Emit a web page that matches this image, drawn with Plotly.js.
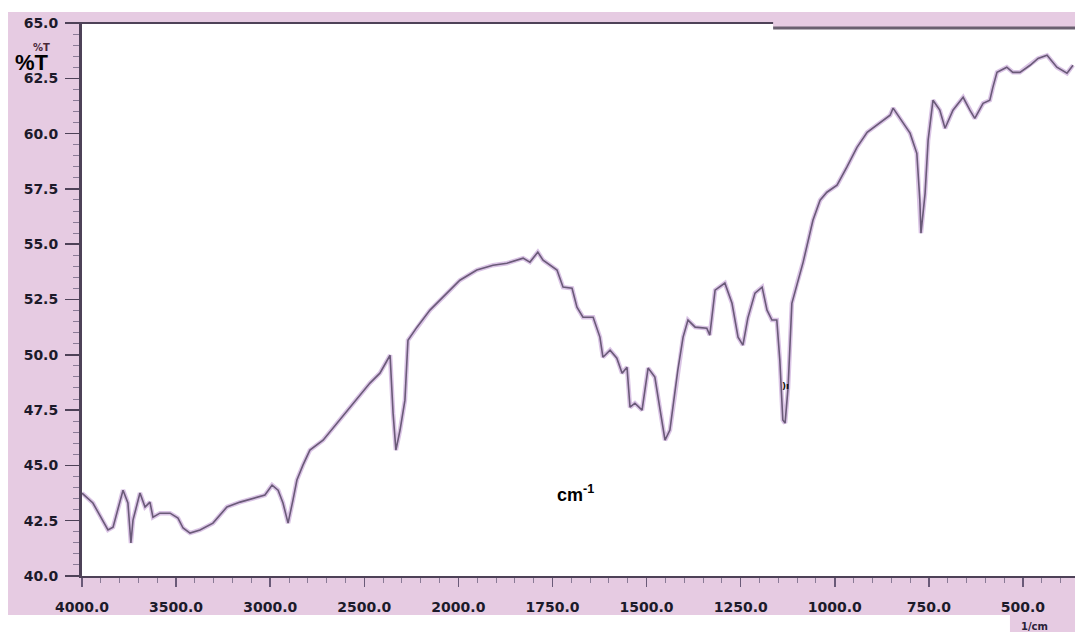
<!DOCTYPE html>
<html>
<head>
<meta charset="utf-8">
<script src="https://cdn.plot.ly/plotly-3.0.1.min.js"></script>
<style>html,body{margin:0;padding:0;background:#fff;}#chart{width:1075px;height:632px;}</style>
</head>
<body>
<div id="chart"></div>
<script>
// FTIR spectrum values
const wavenumber = [4000,3942,3862,3835,3782,3756,3740,3729,3692,3665,3639,3623,3586,3532,3490,3463,3426,3373,3304,3230,3160,3091,3028,2990,2958,2932,2905,2879,2858,2826,2789,2719,2645,2560,2470,2417,2363,2347,2332,2310,2284,2268,2220,2151,2082,1996,1951,1908,1871,1828,1810,1789,1775,1738,1722,1698,1685,1669,1642,1624,1616,1597,1579,1565,1552,1544,1531,1512,1496,1478,1464,1451,1438,1417,1403,1390,1371,1340,1332,1318,1292,1273,1257,1244,1231,1212,1193,1180,1167,1154,1146,1138,1132,1124,1114,1098,1084,1058,1039,1021,994,968,941,914,880,853,845,827,800,782,774,771,760,752,739,721,707,686,659,641,628,606,588,580,569,543,527,508,481,460,436,410,383,367];
const transmittance = [43.75,43.30,42.08,42.21,43.88,43.30,41.49,42.53,43.75,43.12,43.34,42.66,42.84,42.84,42.62,42.17,41.94,42.08,42.39,43.12,43.34,43.52,43.66,44.11,43.88,43.30,42.39,43.43,44.34,45.01,45.69,46.14,46.91,47.82,48.72,49.17,49.98,47.36,45.69,46.60,47.95,50.66,51.25,52.02,52.60,53.37,53.83,54.05,54.14,54.37,54.19,54.64,54.28,53.83,53.06,53.01,52.15,51.70,51.70,50.80,49.89,50.21,49.85,49.17,49.44,47.63,47.81,47.50,49.40,48.99,47.50,46.14,46.60,49.31,50.80,51.57,51.25,51.20,50.89,52.92,53.24,52.33,50.80,50.44,51.66,52.79,53.06,52.02,51.57,51.57,49.76,47.05,46.91,48.54,52.33,53.37,54.19,56.08,56.99,57.35,57.67,58.48,59.38,60.06,60.51,60.83,61.15,60.69,60.02,59.11,56.99,55.50,57.30,59.70,61.51,61.06,60.24,61.06,61.64,61.06,60.69,61.37,61.51,62.09,62.77,63.00,62.77,62.77,63.09,63.40,63.54,63.00,62.73,63.09];
const tickWavenumbers = [4000,3500,3000,2500,2000,1750,1500,1250,1000,750,500];
const tickLabels = ['4000.0','3500.0','3000.0','2500.0','2000.0','1750.0','1500.0','1250.0','1000.0','750.0','500.0'];
const yTickValues = [40,42.5,45,47.5,50,52.5,55,57.5,60,62.5,65];
const yTickLabels = ['40.0','42.5','45.0','47.5','50.0','52.5','55.0','57.5','60.0','62.5','65.0'];

// The instrument's wavenumber axis is compressed by half above 2000 1/cm
function toScale(wn){ return wn >= 2000 ? (4000 - wn) / 500 : 4 + (2000 - wn) / 250; }
const xs = wavenumber.map(toScale);

const traces = [
  {x: xs, y: transmittance, type: 'scatter', mode: 'lines',
   line: {color: '#cdb0dc', width: 4.5}, opacity: 0.75, hoverinfo: 'skip', showlegend: false},
  {x: xs, y: transmittance, type: 'scatter', mode: 'lines',
   line: {color: '#6a5a78', width: 1.6}, hoverinfo: 'skip', showlegend: false}
];

const pink = '#e6cbe2';
const layout = {
  width: 1075, height: 632,
  margin: {l: 82, r: 0, t: 23, b: 56},
  paper_bgcolor: '#ffffff', plot_bgcolor: 'rgba(0,0,0,0)',
  showlegend: false,
  xaxis: {
    range: [0, 10.553], tickmode: 'array', tickvals: tickWavenumbers.map(toScale), ticktext: tickLabels,
    showgrid: false, zeroline: false, showline: true, linecolor: '#4e4258', linewidth: 2,
    ticks: 'outside', ticklen: 9, tickwidth: 1.5, tickcolor: '#6a5a78', ticklabelstandoff: 8,
    tickfont: {family: 'DejaVu Sans', size: 14, weight: 'bold', color: '#1c1a2a'},
    minor: {tickmode: 'linear', tick0: 0, dtick: 0.2, ticks: 'outside', ticklen: 5, tickcolor: '#8a7a96', tickwidth: 1},
    fixedrange: true
  },
  yaxis: {
    range: [40, 65], tickmode: 'array', tickvals: yTickValues, ticktext: yTickLabels,
    showgrid: false, zeroline: false, showline: true, linecolor: '#4e4258', linewidth: 3,
    ticks: 'outside', ticklen: 14, tickwidth: 1.5, tickcolor: '#4e4258', ticklabelstandoff: 4,
    tickfont: {family: 'DejaVu Sans', size: 14, weight: 'bold', color: '#1c1a2a'},
    minor: {tickmode: 'linear', tick0: 40, dtick: 0.5, ticks: 'outside', ticklen: 6, tickcolor: '#8a7a96', tickwidth: 1},
    fixedrange: true
  },
  shapes: [
    {type: 'rect', xref: 'paper', yref: 'paper', x0: -0.0745, x1: 0, y0: -0.0705, y1: 1.0199, fillcolor: pink, line: {width: 0}, layer: 'below'},
    {type: 'rect', xref: 'paper', yref: 'paper', x0: 0, x1: 1, y0: -0.0705, y1: 0, fillcolor: pink, line: {width: 0}, layer: 'below'},
    {type: 'rect', xref: 'paper', yref: 'paper', x0: 0, x1: 1, y0: 1, y1: 1.0199, fillcolor: pink, line: {width: 0}, layer: 'below'},
    {type: 'rect', xref: 'paper', yref: 'paper', x0: 0.696, x1: 1, y0: 0.991, y1: 1, fillcolor: pink, line: {width: 0}, layer: 'below'},
    {type: 'rect', xref: 'paper', yref: 'paper', x0: 0.9345, x1: 1, y0: -0.1013, y1: -0.0705, fillcolor: pink, line: {width: 0}, layer: 'below'},
    {type: 'line', xref: 'paper', yref: 'paper', x0: -0.017, x1: 0.696, y0: 1, y1: 1, line: {color: '#4e4258', width: 2}},
    {type: 'line', xref: 'paper', yref: 'paper', x0: 0.696, x1: 1, y0: 0.991, y1: 0.991, line: {color: '#6a6070', width: 3}}
  ],
  annotations: [
    {text: '%T', xref: 'paper', yref: 'paper', x: -0.0403, y: 0.9566, xanchor: 'center', yanchor: 'middle', showarrow: false,
     font: {family: 'DejaVu Sans', size: 10, weight: 'bold', color: '#4a2838'}},
    {text: '%T', xref: 'paper', yref: 'paper', x: -0.0503, y: 0.9286, xanchor: 'center', yanchor: 'middle', showarrow: false,
     font: {family: 'Liberation Sans', size: 22, weight: 'bold', color: '#000000'}},
    {text: 'cm<sup>-1</sup>', xref: 'paper', yref: 'paper', x: 0.4965, y: 0.150, xanchor: 'center', yanchor: 'middle', showarrow: false,
     font: {family: 'Liberation Sans', size: 18, weight: 'bold', color: '#000000'}},
    {text: ')ı', xref: 'paper', yref: 'paper', x: 0.7082, y: 0.3436, xanchor: 'center', yanchor: 'middle', showarrow: false,
     font: {family: 'DejaVu Sans', size: 9, weight: 'bold', color: '#111111'}},
    {text: '1/cm', xref: 'paper', yref: 'paper', x: 0.9597, y: -0.092, xanchor: 'center', yanchor: 'middle', showarrow: false,
     font: {family: 'DejaVu Sans', size: 10, weight: 'bold', color: '#2a2238'}}
  ]
};

Plotly.newPlot('chart', traces, layout, {displayModeBar: false, staticPlot: true});
</script>
</body>
</html>
